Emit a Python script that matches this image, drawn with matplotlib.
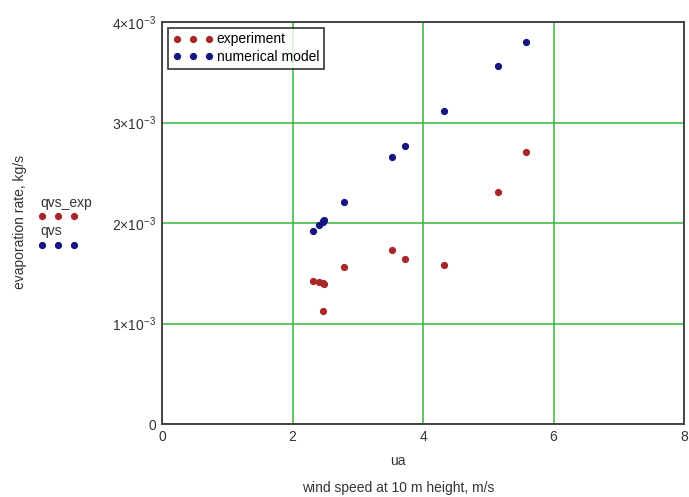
import matplotlib
matplotlib.use("Agg")
import matplotlib.pyplot as plt
from matplotlib.lines import Line2D
from matplotlib.ticker import FixedLocator, FuncFormatter

plt.rcParams["font.family"] = ["Liberation Sans", "DejaVu Sans"]
plt.rcParams["mathtext.fontset"] = "custom"
plt.rcParams["mathtext.rm"] = "Liberation Sans"
plt.rcParams["mathtext.it"] = "Liberation Sans"

# wind speed, m/s
ua = [2.32, 2.41, 2.46, 2.49, 2.47, 2.79, 3.52, 3.72, 4.32, 5.15, 5.58]
# evaporation rate, kg/s
qvs_exp = [1.42e-3, 1.41e-3, 1.40e-3, 1.39e-3, 1.12e-3, 1.56e-3,
           1.73e-3, 1.64e-3, 1.58e-3, 2.31e-3, 2.71e-3]
qvs = [1.92e-3, 1.98e-3, 2.01e-3, 2.03e-3, 2.02e-3, 2.21e-3,
       2.66e-3, 2.77e-3, 3.11e-3, 3.56e-3, 3.80e-3]

x_ticks = [0, 2, 4, 6, 8]
y_ticks = [0, 1e-3, 2e-3, 3e-3, 4e-3]

red = "#a82828"
blue = "#141482"
green = "#3cb43c"
txt = "#333333"
fs = 10

fig = plt.figure(figsize=(6.89, 4.97), dpi=100)
ax = fig.add_axes([162 / 689, 73 / 497, 522 / 689, 402 / 497])

ax.plot(ua, qvs_exp, "o", color=red, markersize=4.2, label="experiment", zorder=3)
ax.plot(ua, qvs, "o", color=blue, markersize=4.2, label="numerical model", zorder=3)

ax.set_xlim(0, 8)
ax.set_ylim(0, 4e-3)
ax.xaxis.set_major_locator(FixedLocator(x_ticks))
ax.yaxis.set_major_locator(FixedLocator(y_ticks))


def yfmt(v, pos):
    if v == 0:
        return "0"
    return r"$%d{\times}10^{-3}$" % round(v * 1e3)


ax.yaxis.set_major_formatter(FuncFormatter(yfmt))
ax.xaxis.set_major_formatter(FuncFormatter(lambda v, p: "%d" % v))
ax.tick_params(length=0, labelsize=fs, colors=txt, pad=4)
ax.grid(True, color=green, linewidth=1.1)
for s in ax.spines.values():
    s.set_color("#444444")
    s.set_linewidth(1.4)

leg = ax.legend(loc="upper left", numpoints=3, fontsize=fs, frameon=True,
                fancybox=False, edgecolor="black", borderpad=0.35,
                handlelength=2.9, handletextpad=0.3, labelspacing=0.25,
                borderaxespad=0.4)
leg.get_frame().set_linewidth(1.2)

# labels outside the axes
fig.text(20 / 689, 1 - 222 / 497, "evaporation rate, kg/s", rotation=90,
         ha="center", va="center", fontsize=fs, color=txt)
fig.text(398 / 689, 1 - 461 / 497, "ua", ha="center", va="center",
         fontsize=fs, color=txt)
fig.text(398 / 689, 1 - 488 / 497, "wind speed at 10 m height, m/s",
         ha="center", va="center", fontsize=fs, color=txt)

# series key on the left
fig.text(40 / 689, 1 - 203 / 497, "qvs_exp", ha="left", va="center",
         fontsize=fs, color=txt)
fig.text(40 / 689, 1 - 231 / 497, "qvs", ha="left", va="center",
         fontsize=fs, color=txt)
fig.add_artist(Line2D([42 / 689, 58 / 689, 74 / 689], [1 - 216 / 497] * 3,
                      linestyle="none", marker="o", color=red, markersize=4.2,
                      transform=fig.transFigure))
fig.add_artist(Line2D([42 / 689, 58 / 689, 74 / 689], [1 - 245 / 497] * 3,
                      linestyle="none", marker="o", color=blue, markersize=4.2,
                      transform=fig.transFigure))

fig.savefig("out.png", dpi=100)
